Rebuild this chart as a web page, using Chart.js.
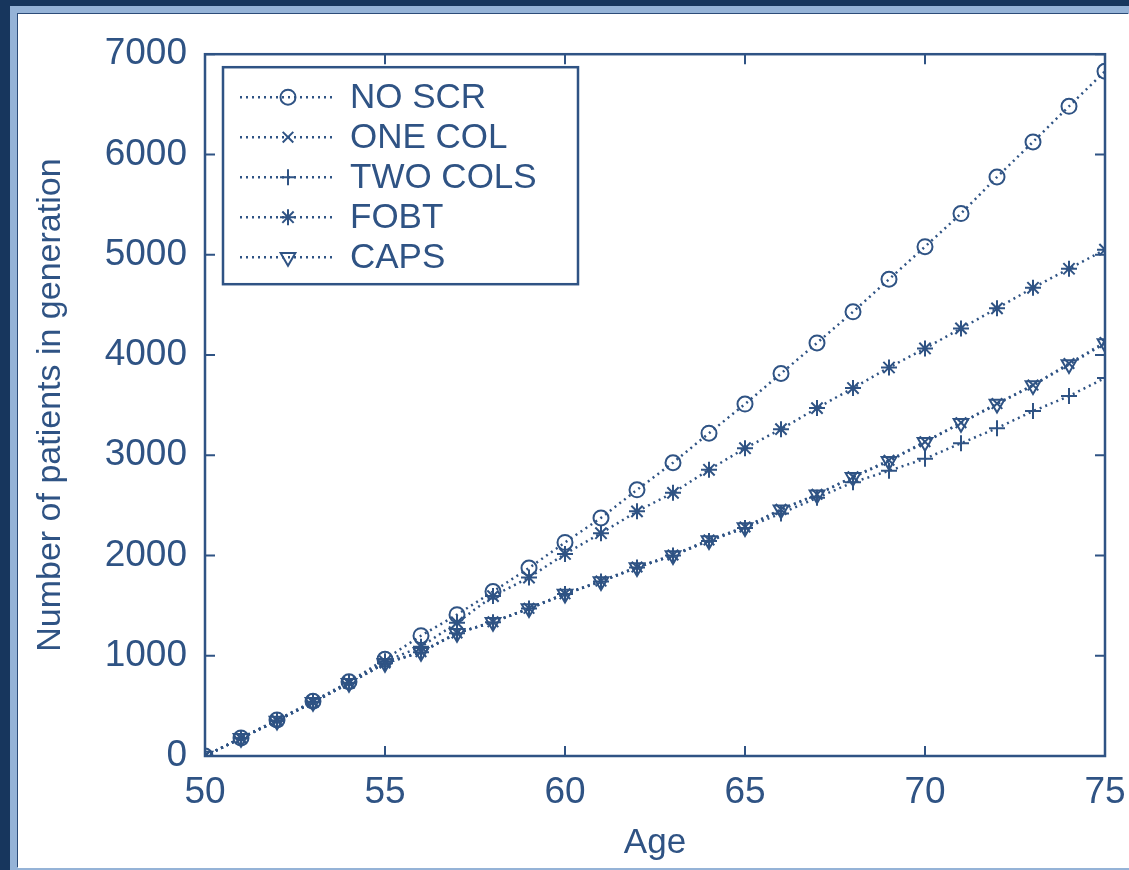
<!DOCTYPE html>
<html>
<head>
<meta charset="utf-8">
<title>Number of patients in generation</title>
<script src="https://cdn.jsdelivr.net/npm/chart.js@4.4.1/dist/chart.umd.min.js"></script>
<style>
  html, body { margin: 0; padding: 0; }
  body { width: 1129px; height: 870px; background: #17365d; position: relative; overflow: hidden; }
  #band { position: absolute; left: 10px; top: 6px; right: 0; bottom: 0; background: #95b3d7; }
  #sheet { position: absolute; left: 18px; top: 14px; width: 1111px; height: 854px; background: #fff;
           box-shadow: -1px -1px 0 #2c4c78; }
</style>
</head>
<body>
<div id="band"></div>
<div id="sheet"><canvas id="chart"></canvas></div>
<script>
// ages on the x axis
const ages = [50, 51, 52, 53, 54, 55, 56, 57, 58, 59, 60, 61, 62,
              63, 64, 65, 66, 67, 68, 69, 70, 71, 72, 73, 74, 75];

// patients per strategy
const noScr   = [0, 180, 360, 545, 740, 965, 1200, 1410, 1640, 1875, 2130, 2375, 2655,
                 2925, 3220, 3510, 3815, 4120, 4430, 4755, 5080, 5410, 5775, 6125, 6480, 6830];
const oneCol  = [0, 178, 352, 537, 727, 928, 1040, 1228, 1338, 1473, 1618, 1745, 1885,
                 2005, 2155, 2285, 2460, 2610, 2785, 2950, 3135, 3325, 3515, 3700, 3915, 4125];
const twoCols = [0, 178, 350, 535, 725, 925, 1035, 1225, 1335, 1470, 1615, 1740, 1880,
                 2000, 2145, 2275, 2420, 2575, 2730, 2845, 2965, 3120, 3270, 3440, 3590, 3770];
const fobt    = [0, 178, 355, 540, 730, 945, 1090, 1330, 1595, 1780, 2015, 2222, 2440,
                 2625, 2855, 3070, 3260, 3470, 3670, 3875, 4065, 4265, 4465, 4670, 4860, 5050];
const caps    = [0, 178, 350, 535, 725, 925, 1035, 1225, 1335, 1470, 1615, 1740, 1880,
                 2000, 2150, 2280, 2455, 2605, 2780, 2940, 3130, 3320, 3510, 3695, 3905, 4115];

const seriesNames = ['NO SCR', 'ONE COL', 'TWO COLS', 'FOBT', 'CAPS'];
const xTicks = [50, 55, 60, 65, 70, 75];
const yTicks = [0, 1000, 2000, 3000, 4000, 5000, 6000, 7000];

const INK = '#2f5384';
const FONT = '"Liberation Sans", Arial, Helvetica, sans-serif';

function pairs(vals) {
  return ages.map((a, i) => ({ x: a, y: vals[i] }));
}

function series(label, vals, style, extra) {
  return Object.assign({
    label: label,
    data: pairs(vals),
    borderColor: INK,
    borderWidth: 2.5,
    borderDash: [2, 4],
    pointStyle: style,
    pointRadius: 7.5,
    pointBorderWidth: 2,
    pointBorderColor: INK,
    pointBackgroundColor: 'rgba(0,0,0,0)',
    fill: false,
    tension: 0,
  }, extra || {});
}

// MATLAB-like box, inward ticks and the legend inside the plot
const boxPlugin = {
  id: 'boxPlugin',
  afterDatasetsDraw(chart) {
    const { ctx, chartArea: a, scales } = chart;
    ctx.save();
    ctx.strokeStyle = INK;
    ctx.lineWidth = 2.5;
    ctx.strokeRect(a.left, a.top, a.right - a.left, a.bottom - a.top);
    const len = 10;
    ctx.lineWidth = 2;
    ctx.beginPath();
    scales.x.ticks.forEach(t => {
      const px = scales.x.getPixelForValue(t.value);
      ctx.moveTo(px, a.bottom); ctx.lineTo(px, a.bottom - len);
      ctx.moveTo(px, a.top);    ctx.lineTo(px, a.top + len);
    });
    scales.y.ticks.forEach(t => {
      const py = scales.y.getPixelForValue(t.value);
      ctx.moveTo(a.left, py);  ctx.lineTo(a.left + len, py);
      ctx.moveTo(a.right, py); ctx.lineTo(a.right - len, py);
    });
    ctx.stroke();
    ctx.restore();
  },
  afterDraw(chart) {
    const { ctx, chartArea: a } = chart;
    const bx = a.left + 18, by = a.top + 13, bw = 355, bh = 217;
    ctx.save();
    ctx.fillStyle = '#fff';
    ctx.fillRect(bx, by, bw, bh);
    ctx.strokeStyle = INK;
    ctx.lineWidth = 2.5;
    ctx.strokeRect(bx, by, bw, bh);
    ctx.font = '35px ' + FONT;
    ctx.textBaseline = 'middle';
    chart.data.datasets.forEach((ds, i) => {
      const cy = by + 30 + i * 40;
      ctx.beginPath();
      ctx.setLineDash(ds.borderDash);
      ctx.lineWidth = ds.borderWidth;
      ctx.moveTo(bx + 17, cy);
      ctx.lineTo(bx + 110, cy);
      ctx.stroke();
      ctx.setLineDash([]);
      ctx.lineWidth = ds.pointBorderWidth;
      ctx.fillStyle = 'rgba(0,0,0,0)';
      Chart.helpers.drawPoint(ctx, {
        pointStyle: ds.pointStyle,
        radius: ds.pointRadius,
        rotation: ds.pointRotation || 0,
        borderWidth: ds.pointBorderWidth,
      }, bx + 65, cy);
      ctx.fillStyle = INK;
      ctx.fillText(ds.label, bx + 127, cy + 1);
    });
    ctx.restore();
  }
};

new Chart(document.getElementById('chart'), {
  type: 'line',
  data: {
    datasets: [
      series(seriesNames[0], noScr, 'circle'),
      series(seriesNames[1], oneCol, 'crossRot'),
      series(seriesNames[2], twoCols, 'cross', { pointRadius: 8 }),
      series(seriesNames[3], fobt, 'star', { pointRadius: 8 }),
      series(seriesNames[4], caps, 'triangle', { pointRotation: 180, pointRadius: 8.5 }),
    ],
  },
  options: {
    responsive: true,
    maintainAspectRatio: false,
    animation: false,
    layout: { padding: { top: 38, right: 24, bottom: 0, left: 0 } },
    plugins: { legend: { display: false }, tooltip: { enabled: false } },
    scales: {
      x: {
        type: 'linear',
        min: 50, max: 75,
        afterBuildTicks: s => { s.ticks = xTicks.map(v => ({ value: v })); },
        afterFit: s => { s.height = 112; s.paddingLeft = 0; s.paddingRight = 0; },
        grid: { display: false, drawTicks: false },
        border: { display: false },
        ticks: { color: INK, padding: 15, font: { family: FONT, size: 37 } },
        title: { display: true, text: 'Age', color: INK, padding: { top: 6 },
                 font: { family: FONT, size: 35 } },
      },
      y: {
        min: 0, max: 7000,
        afterBuildTicks: s => { s.ticks = yTicks.map(v => ({ value: v })); },
        afterFit: s => { s.width = 187; },
        grid: { display: false, drawTicks: false },
        border: { display: false },
        ticks: { color: INK, padding: 18, font: { family: FONT, size: 37 },
                 callback: v => String(v) },
        title: { display: true, text: 'Number of patients in generation', color: INK,
                 padding: { top: 12, bottom: 0 }, font: { family: FONT, size: 34 } },
      },
    },
  },
  plugins: [boxPlugin],
});
</script>
</body>
</html>
